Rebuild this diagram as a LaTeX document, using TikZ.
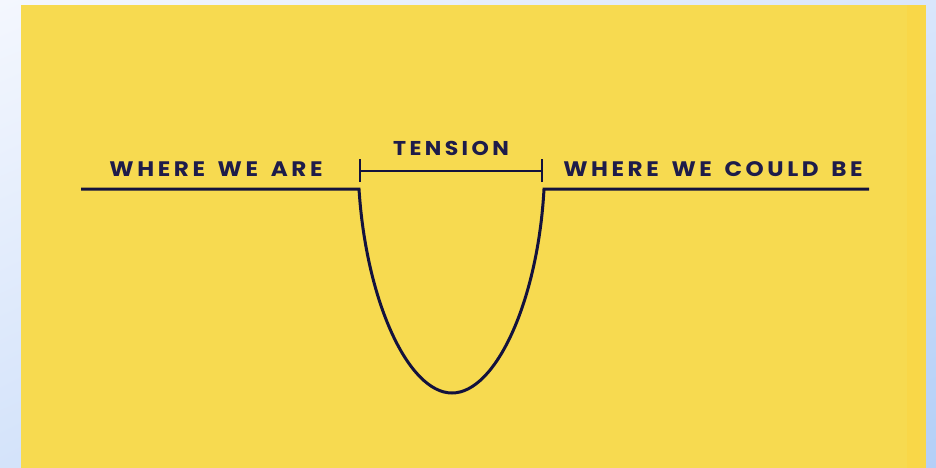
\documentclass[tikz,border=0pt]{standalone}
\usepackage{fontspec}
\usetikzlibrary{shadings}
\newfontfamily\labfont{Poppins}[LetterSpace=17, FakeStretch=1.1, WordSpace=1.5]
\definecolor{bgA}{HTML}{F4F7FE}
\definecolor{bgB}{HTML}{D9E6FB}
\definecolor{bgC}{HTML}{D4E3FA}
\definecolor{bgD}{HTML}{B3CFF7}
\definecolor{yel}{HTML}{F7DA50}
\definecolor{yel2}{HTML}{F9D748}
\definecolor{navy}{HTML}{13123D}
\definecolor{txt}{HTML}{1E1C4A}
\tikzset{
  lab/.style={font=\labfont\bfseries\fontsize{21}{24}\selectfont, text=txt, inner sep=0pt, anchor=base},
  curve/.style={draw=navy, line width=3pt, line join=miter},
  brk/.style={draw=navy, line width=2.6pt}
}
\begin{document}
\begin{tikzpicture}[x=1pt,y=-1pt]
\useasboundingbox (0,0) rectangle (936,468);
\shade[upper left=bgA, upper right=bgB, lower left=bgC, lower right=bgD] (0,0) rectangle (936,468);
\fill[yel] (21,5) rectangle (926,468);
\fill[yel2] (907,5) rectangle (926,468);
% labels
\node[lab] (wwa) at (216,176) {WHERE WE ARE};
\node[lab, font=\labfont\bfseries\fontsize{20}{24}\selectfont] (ten) at (451,155) {TENSION};
\node[lab] (wwcb) at (713,176) {WHERE WE COULD BE};
% main line
\coordinate (l0) at (81,189);
\coordinate (l1) at (359,189);
\coordinate (bot) at (452,393);
\coordinate (r1) at (544,189);
\coordinate (r0) at (869,189);
\draw[curve] (l0) -- (l1)
  .. controls (366,300) and (408,393) .. (bot)
  .. controls (496,393) and (538,300) .. (r1) -- (r0);
% tension bracket
\coordinate (ta) at (360,171);
\coordinate (tb) at (542,171);
\draw[brk] (ta) -- (tb);
\draw[brk] ([yshift=-11]ta) -- ([yshift=12]ta);
\draw[brk] ([yshift=-11]tb) -- ([yshift=12]tb);
\end{tikzpicture}
\end{document}
